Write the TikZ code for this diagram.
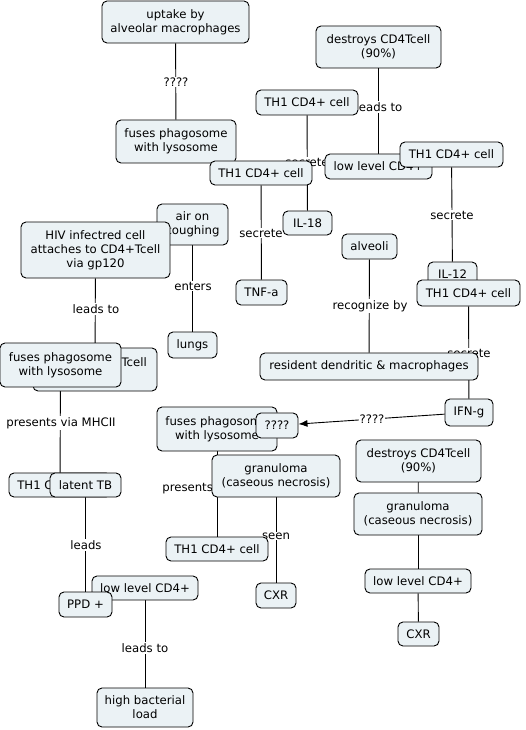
\documentclass[tikz,border=0pt]{standalone}
\usepackage{fontspec}
\setmainfont{DejaVu Sans}
\usetikzlibrary{arrows.meta}
\definecolor{cfill}{RGB}{235,242,245}
\pgfdeclarelayer{bg}
\pgfdeclarelayer{mid}
\pgfsetlayers{bg,mid,main}
\tikzset{
  cbox/.style={draw=black, line width=0.9pt, fill=cfill, rounded corners=5pt, inner sep=0pt, align=center, font=\fontsize{11.7}{14}\selectfont},
  lbl/.style={fill=white, inner sep=1pt, font=\fontsize{11.7}{14}\selectfont},
  conn/.style={line width=0.9pt, draw=black}
}
\newcommand{\cmbox}[6]{\node[cbox, minimum width={(#4-#2)*1pt}, minimum height={(#5-#3)*1pt}] (#1) at ({(#2+#4)/2},{(#3+#5)/2}) {#6};}
\begin{document}
\begin{tikzpicture}[x=1pt,y=-1pt]
\begin{pgfonlayer}{bg}
\fill[white] (0,0) rectangle (526,730);
\end{pgfonlayer}
\useasboundingbox (0,0) rectangle (526,730);
% boxes (order matters for overlaps)
\cmbox{uptake}{102}{1}{249}{43}{uptake by\\alveolar macrophages}
\cmbox{destroysA}{316}{26}{441}{68}{destroys CD4Tcell\\(90\%)}
\cmbox{th1A}{256}{90}{358}{115}{TH1 CD4+ cell}
\cmbox{fusesA}{116}{120}{236}{163}{fuses phagosome\\with lysosome}
\cmbox{lowA}{325}{154}{432}{179}{low level CD4+}
\cmbox{th1C}{400}{142}{503}{167}{TH1 CD4+ cell}
\cmbox{th1B}{210}{161}{312}{185}{TH1 CD4+ cell}
\cmbox{air}{157}{204}{228}{245}{air on\\coughing}
\cmbox{hiv}{21}{222}{170}{278}{HIV infectred cell\\attaches to CD4+Tcell\\via gp120}
\cmbox{il18}{283}{211}{332}{235}{IL-18}
\cmbox{alveoli}{342}{234}{397}{259}{alveoli}
\cmbox{il12}{428}{262}{477}{287}{IL-12}
\cmbox{th1D}{417}{280}{520}{306}{TH1 CD4+ cell}
\cmbox{tnfa}{236}{280}{287}{305}{TNF-a}
\cmbox{lungs}{168}{332}{217}{358}{lungs}
\cmbox{destroysB}{33}{348}{157}{391}{destroys CD4Tcell\\(90\%)}
\cmbox{fusesL}{0}{343}{121}{387}{fuses phagosome\\with lysosome}
\cmbox{resident}{260}{353}{478}{380}{resident dendritic \& macrophages}
\cmbox{ifng}{445}{399}{493}{426}{IFN-g}
\cmbox{fusesB}{157}{407}{277}{451}{fuses phagosome\\with lysosome}
\cmbox{qq}{256}{413}{298}{438}{????}
\cmbox{destroysC}{356}{440}{481}{482}{destroys CD4Tcell\\(90\%)}
\cmbox{granC}{354}{493}{482}{535}{granuloma\\(caseous necrosis)}
\cmbox{granB}{212}{455}{340}{497}{granuloma\\(caseous necrosis)}
\cmbox{th1E}{9}{473}{111}{497}{TH1 CD4+ cell}
\cmbox{latent}{50}{473}{121}{497}{latent TB}
\cmbox{th1F}{166}{537}{268}{561}{TH1 CD4+ cell}
\cmbox{lowC}{365}{569}{471}{593}{low level CD4+}
\cmbox{cxrB}{398}{622}{439}{646}{CXR}
\cmbox{lowB}{92}{576}{198}{600}{low level CD4+}
\cmbox{ppd}{59}{592}{112}{617}{PPD +}
\cmbox{cxrA}{256}{583}{296}{608}{CXR}
\cmbox{high}{97}{688}{193}{727}{high bacterial\\load}
% labels
\begin{pgfonlayer}{mid}
\node[lbl] (l1) at (176,82) {????};
\node[lbl] (l2) at (379,107) {leads to};
\node[lbl] (l3) at (307,162) {secrete};
\node[lbl] (l4) at (261,233) {secrete};
\node[lbl] (l5) at (452,215) {secrete};
\node[lbl] (l6) at (469,353) {secrete};
\node[lbl] (l7) at (370,306) {recognize by};
\node[lbl] (l8) at (96,309) {leads to};
\node[lbl] (l9) at (61,423) {presents via MHCII};
\node[lbl] (l10) at (193,286) {enters};
\node[lbl] (l11) at (86,545) {leads};
\node[lbl] (l12) at (145,648) {leads to};
\node[lbl] (l13) at (217,488) {presents via MHCII};
\node[lbl] (l14) at (276,536) {seen};
\node[lbl] (l15) at (372,419) {????};
\end{pgfonlayer}
% connectors
\begin{pgfonlayer}{bg}
\draw[conn] (uptake) -- (fusesA);
\draw[conn] (destroysA) -- (lowA);
\draw[conn] (th1A) -- (il18);
\draw[conn] (th1B) -- (tnfa);
\draw[conn] (th1C) -- (il12);
\draw[conn] (th1D) -- (ifng);
\draw[conn] (alveoli) -- (resident);
\draw[conn] (hiv) -- (destroysB);
\draw[conn] (fusesL) -- (th1E);
\draw[conn] (air) -- (lungs);
\draw[conn] (latent) -- (ppd);
\draw[conn] (lowB) -- (high);
\draw[conn] (fusesB) -- (th1F);
\draw[conn] (granB) -- (cxrA);
\draw[conn,-{Latex[length=9pt,width=7pt]}] (ifng) -- (qq);
\draw[conn] (destroysC) -- (granC);
\draw[conn] (granC) -- (lowC);
\draw[conn] (lowC) -- (cxrB);
\end{pgfonlayer}
\end{tikzpicture}
\end{document}
